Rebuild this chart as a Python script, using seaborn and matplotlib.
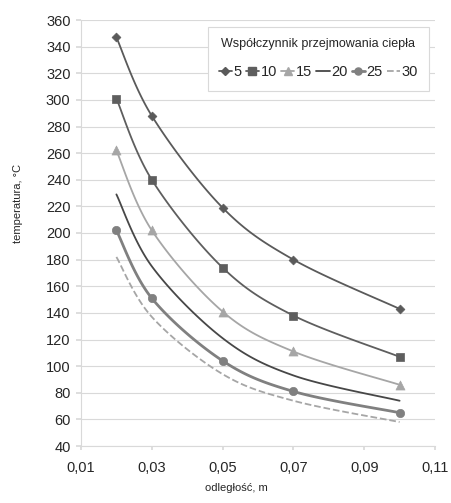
import numpy as np
import pandas as pd
import matplotlib
matplotlib.use("Agg")
import matplotlib.pyplot as plt
from matplotlib.lines import Line2D
from matplotlib.ticker import FuncFormatter, MultipleLocator
import seaborn as sns

# distance [m] and temperature [C] for each heat transfer coefficient
odleglosc = [0.02, 0.03, 0.05, 0.07, 0.10]
wspolczynniki = ["5", "10", "15", "20", "25", "30"]
t5 = [347, 288, 219, 180, 143]
t10 = [301, 240, 174, 138, 107]
t15 = [262, 202, 141, 111, 86]
t20 = [229, 175, 121, 93, 74]
t25 = [202, 151, 104, 81, 65]
t30 = [182, 137, 94, 74, 58]
serie = [t5, t10, t15, t20, t25, t30]
xticki = [0.01, 0.03, 0.05, 0.07, 0.09, 0.11]

# styles per series
kolory = ["#5a5a5a", "#5e5e5e", "#a6a6a6", "#474747", "#808080", "#a6a6a6"]
markery = ["D", "s", "^", None, "o", None]
msize = [4.5, 6, 6.5, 0, 6, 0]
grubosc = [1.3, 1.3, 1.3, 1.3, 2.0, 1.3]
styl = ["-", "-", "-", "-", "-", "--"]

sns.set_theme(style="white")
plt.rcParams['font.family'] = ['Liberation Sans', 'DejaVu Sans']

fig, ax = plt.subplots(figsize=(4.52, 5.03), dpi=100)
fig.subplots_adjust(left=81/452, right=435/452, bottom=1-446/503, top=1-20/503)


def wygladz(xs, ys, n=30):
    # Excel-like smooth line (bezier through points), done in screen proportions
    sx, sy = 354/0.10, 426/320
    P = np.column_stack([np.array(xs)*sx, np.array(ys)*sy])
    out = []
    for i in range(len(P)-1):
        p0 = P[max(i-1, 0)]; p1 = P[i]; p2 = P[i+1]; p3 = P[min(i+2, len(P)-1)]
        c1 = p1 + (p2-p0)/6
        c2 = p2 - (p3-p1)/6
        t = np.linspace(0, 1, n)[:, None]
        seg = (1-t)**3*p1 + 3*(1-t)**2*t*c1 + 3*(1-t)*t**2*c2 + t**3*p2
        out.append(seg if i == 0 else seg[1:])
    out = np.vstack(out)
    return out[:, 0]/sx, out[:, 1]/sy


for i, (nazwa, ys) in enumerate(zip(wspolczynniki, serie)):
    gx, gy = wygladz(odleglosc, ys)
    df = pd.DataFrame({"x": gx, "y": gy})
    sns.lineplot(data=df, x="x", y="y", ax=ax, sort=False, estimator=None,
                 color=kolory[i], linewidth=grubosc[i], linestyle=styl[i])
    if markery[i] is not None:
        pts = pd.DataFrame({"x": odleglosc, "y": ys})
        sns.scatterplot(data=pts, x="x", y="y", ax=ax, marker=markery[i],
                        color=kolory[i], s=msize[i]**2, edgecolor=kolory[i],
                        linewidth=0.5, zorder=3)

ax.set_xlim(0.01, 0.11)
ax.set_ylim(40, 360)
ax.set_xticks(xticki)
ax.yaxis.set_major_locator(MultipleLocator(20))
ax.xaxis.set_major_formatter(FuncFormatter(lambda v, p: f"{v:.2f}".replace(".", ",")))
ax.grid(axis="y", color="#d9d9d9", linewidth=0.8)
ax.grid(axis="x", visible=False)
for s in ["top", "right"]:
    ax.spines[s].set_visible(False)
for s in ["left", "bottom"]:
    ax.spines[s].set_color("#d9d9d9")
    ax.spines[s].set_linewidth(0.8)
ax.tick_params(axis="x", length=3, color="#d9d9d9", labelsize=10.5, pad=8, labelcolor="#262626")
ax.tick_params(axis="y", length=3.5, color="#d9d9d9", labelsize=10.5, pad=4, labelcolor="#262626")
ax.tick_params(bottom=True, left=True)

ax.set_xlabel("odległość, m", fontsize=8, color="#262626")
ax.set_ylabel("temperatura, °C", fontsize=8, color="#262626")
ax.xaxis.set_label_coords(0.44, -0.088)
ax.yaxis.set_label_coords(-0.165, 0.57)

uchwyty = []
for i in range(len(wspolczynniki)):
    uchwyty.append(Line2D([0], [0], color=kolory[i], linewidth=grubosc[i], linestyle=styl[i],
                          marker=markery[i] if markery[i] else None,
                          markersize=msize[i]*0.85 if markery[i] else 0))
leg = ax.legend(uchwyty, wspolczynniki, title="Współczynnik przejmowania ciepła",
                ncol=6, loc="upper right", bbox_to_anchor=(429/452, 1-27/503),
                bbox_transform=fig.transFigure, borderaxespad=0, fontsize=10.5,
                title_fontsize=9, handlelength=0.9, handletextpad=0.1,
                columnspacing=0.3, frameon=True, fancybox=False,
                framealpha=1, edgecolor="#d9d9d9")
leg.get_frame().set_linewidth(0.8)
leg._legend_box.sep = 11
leg._legend_box.pad = 8

fig.savefig("out.png", dpi=100)
